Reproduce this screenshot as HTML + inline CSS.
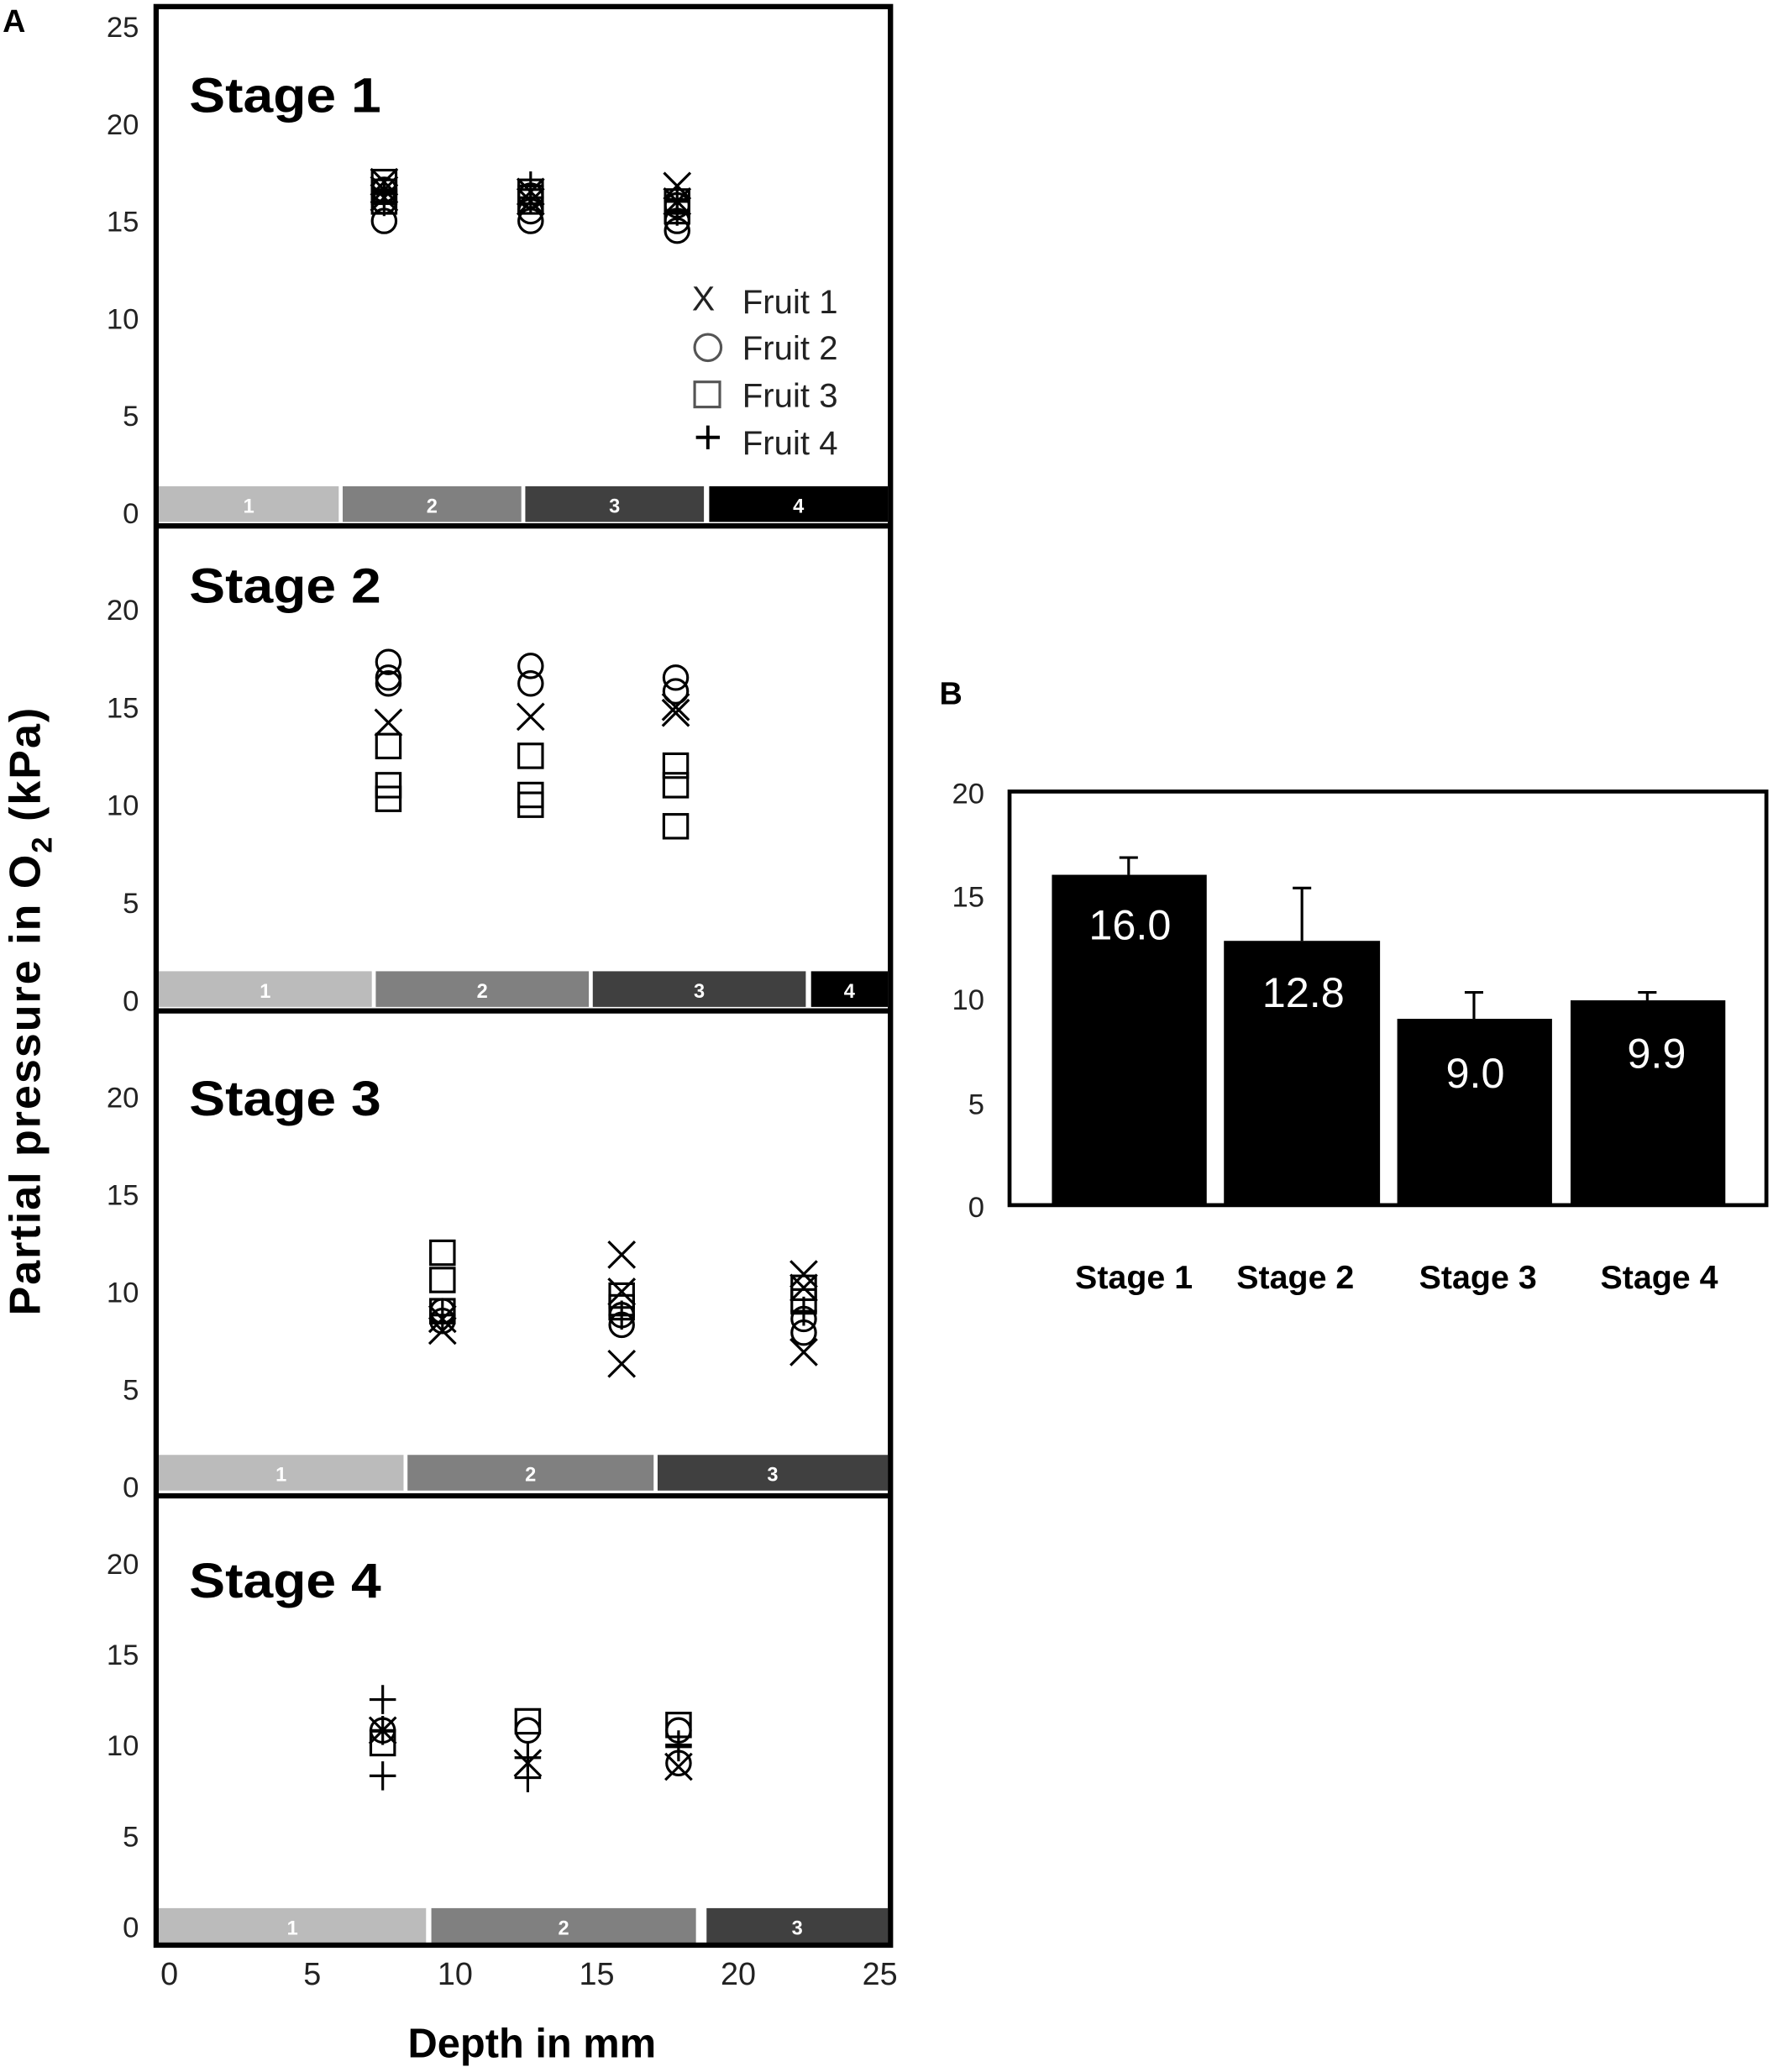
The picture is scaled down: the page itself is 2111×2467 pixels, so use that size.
<!DOCTYPE html>
<html><head><meta charset="utf-8"><style>html,body{margin:0;padding:0;background:#fff}svg{display:block}</style></head>
<body>
<svg id="s" xmlns="http://www.w3.org/2000/svg" width="2111" height="2467" viewBox="0 0 1340 1568" preserveAspectRatio="none" font-family="Liberation Sans, Arial, sans-serif">
<rect width="1340" height="1568" fill="#fff"/>
<text x="2" y="24" font-size="24" font-weight="bold">A</text>
<text x="710" y="533" font-size="24" font-weight="bold">B</text>
<g id="bars"></g>
<g id="marks" fill="none" stroke="#000" stroke-width="2"></g>
<rect x="118" y="5" width="555" height="1467" fill="none" stroke="#000" stroke-width="4"/>
<line x1="118" y1="398" x2="673" y2="398" stroke="#000" stroke-width="4"/>
<line x1="118" y1="765" x2="673" y2="765" stroke="#000" stroke-width="4"/>
<line x1="118" y1="1132" x2="673" y2="1132" stroke="#000" stroke-width="4"/>
<g font-size="37" font-weight="bold">
<text x="143" y="85" textLength="145" lengthAdjust="spacingAndGlyphs">Stage 1</text><text x="143" y="456" textLength="145" lengthAdjust="spacingAndGlyphs">Stage 2</text>
<text x="143" y="844" textLength="145" lengthAdjust="spacingAndGlyphs">Stage 3</text><text x="143" y="1209" textLength="145" lengthAdjust="spacingAndGlyphs">Stage 4</text>
</g>
<g font-size="22" fill="#222" text-anchor="end" id="yt"></g>
<g font-size="24" fill="#222" text-anchor="middle">
<text x="128" y="1502">0</text><text x="236" y="1502">5</text><text x="344" y="1502">10</text><text x="451" y="1502">15</text><text x="558" y="1502">20</text><text x="665" y="1502">25</text>
</g>
<text x="402" y="1557" font-size="31" font-weight="bold" text-anchor="middle">Depth in mm</text>
<text transform="translate(30,765) rotate(-90)" font-size="33" font-weight="bold" text-anchor="middle" letter-spacing="1.3">Partial pressure in O<tspan font-size="22" dy="9">2</tspan><tspan dy="-9"> (kPa)</tspan></text>
<g font-size="25.5" fill="#222">
<text x="561" y="237">Fruit 1</text><text x="561" y="272">Fruit 2</text><text x="561" y="308">Fruit 3</text><text x="561" y="344">Fruit 4</text>
<text x="523" y="235" font-size="26">X</text>
</g>
<circle cx="535" cy="263" r="10" fill="none" stroke="#555" stroke-width="2"/>
<rect x="525" y="289" width="19" height="19" fill="none" stroke="#555" stroke-width="2"/>
<path d="M535 322v18M526 331h18" stroke="#000" stroke-width="2.5"/>
<g fill="#000">
<rect x="795" y="662" width="117" height="250"/><rect x="925" y="712" width="118" height="200"/>
<rect x="1056" y="771" width="117" height="141"/><rect x="1187" y="757" width="117" height="155"/>
</g>
<g stroke="#000" stroke-width="2">
<path d="M853 662V649M846 649h14M984 712V672M977 672h14M1114 771V751M1107 751h14M1245 757V751M1238 751h14"/>
</g>
<rect x="763" y="599" width="572" height="313" fill="none" stroke="#000" stroke-width="3"/>
<g font-size="32" fill="#fff" text-anchor="middle">
<text x="854" y="711">16.0</text><text x="985" y="762">12.8</text><text x="1115" y="823">9.0</text><text x="1252" y="808">9.9</text>
</g>
<g font-size="22" fill="#222" text-anchor="end">
<text x="744" y="608">20</text><text x="744" y="686">15</text><text x="744" y="764">10</text><text x="744" y="843">5</text><text x="744" y="921">0</text>
</g>
<g font-size="25" font-weight="bold" text-anchor="middle">
<text x="857" y="975">Stage 1</text><text x="979" y="975">Stage 2</text><text x="1117" y="975">Stage 3</text><text x="1254" y="975">Stage 4</text>
</g>
</svg>
<script>
var NS="http://www.w3.org/2000/svg";
function el(p,t,a,txt){var e=document.createElementNS(NS,t);for(var k in a)e.setAttribute(k,a[k]);if(txt!=null)e.textContent=txt;document.getElementById(p).appendChild(e);return e;}
var cols=["#bbb","#808080","#404040","#000"];
var B=[[368,[[120,256],[259,394],[397,532],[536,671]]],[735,[[120,281],[284,445],[448,609],[613,671]]],[1101,[[120,305],[308,494],[497,671]]],[1444,[[120,322],[326,526],[534,671]]]];
B.forEach(function(b){b[1].forEach(function(s,i){el("bars","rect",{x:s[0],y:b[0],width:s[1]-s[0],height:27,fill:cols[i]});
el("bars","text",{x:(s[0]+s[1])/2,y:b[0]+20,"font-size":15,"font-weight":"bold",fill:"#fff","text-anchor":"middle"},String(i+1));});});
var P=[[388,14.72,[0,5,10,15,20,25]],[757,14.8,[0,5,10,15,20]],[1125,14.75,[0,5,10,15,20]],[1458,13.75,[0,5,10,15,20]]];
P.forEach(function(p){p[2].forEach(function(v){el("yt","text",{x:105,y:p[0]-v*p[1]+8},String(v));});});
function X(x){return 128+x*21.5;}
var D=[
 [0,[[7.55,{x:[17,16.6,16.2],o:[15,16,16.6],s:[16,16.5,17],p:[16.5,16]}],[12.7,{x:[16.5,16],o:[15,15.5,16.3],s:[16,16.5],p:[16.8,16.2]}],[17.85,{x:[16.8,16],o:[14.5,15,15.8],s:[15.5,16],p:[16,15.5]}]]],
 [1,[[7.7,{o:[17.3,16.5,16.2],x:[14.2],s:[13,11,10.3]}],[12.7,{o:[17.1,16.2],x:[14.5],s:[12.5,10.5,10]}],[17.8,{o:[16.5,15.8],x:[14.7,15],s:[12,11,8.9]}]]],
 [2,[[9.6,{s:[12,10.6,9],o:[9,8.5],x:[8,8.6],p:[8.8]}],[15.9,{x:[11.9,10,6.3],s:[9.8,9.2],o:[8.3,8.8],p:[8.8]}],[22.3,{x:[10.9,10.2,6.9],s:[10.2,9.5],o:[7.9,8.6],p:[9]}]]],
 [3,[[7.5,{p:[12.5,10.8,8.3],x:[10.8],o:[10.8],s:[10.1]}],[12.6,{s:[11.3],o:[10.8],x:[9],p:[9.3,8.2]}],[17.9,{s:[11.1],o:[10.8,9],x:[8.8],p:[10,9.9]}]]]];
D.forEach(function(d){var p=P[d[0]];d[1].forEach(function(g){var cx=X(g[0]);for(var t in g[1])g[1][t].forEach(function(v){var cy=p[0]-v*p[1];
 if(t=="o")el("marks","circle",{cx:cx,cy:cy,r:9});
 else if(t=="s")el("marks","rect",{x:cx-9,y:cy-9,width:18,height:18});
 else if(t=="x")el("marks","path",{d:"M"+(cx-10)+" "+(cy-10)+"l20 20M"+(cx+10)+" "+(cy-10)+"l-20 20"});
 else el("marks","path",{d:"M"+cx+" "+(cy-11)+"v22M"+(cx-10)+" "+cy+"h20"});});});});
</script>
</body></html>
